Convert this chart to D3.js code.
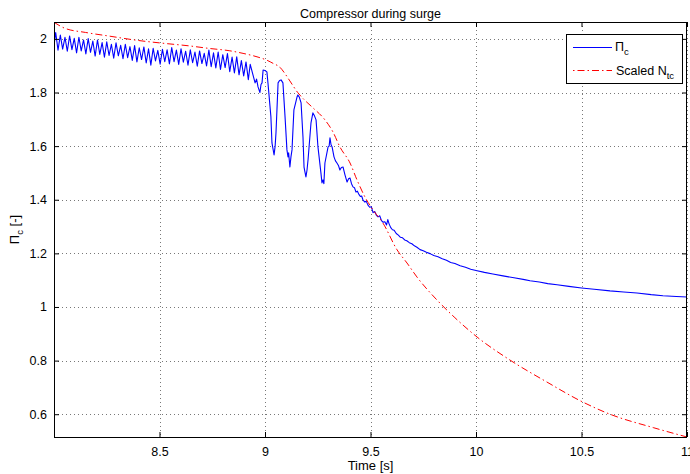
<!DOCTYPE html>
<html>
<head>
<meta charset="utf-8">
<script src="https://cdn.jsdelivr.net/npm/d3@7"></script>
<style>
  html, body { margin: 0; padding: 0; background: #fff; }
  svg { display: block; font-family: "Liberation Sans", Arial, Helvetica, sans-serif; }
</style>
</head>
<body>
<svg id="chart" width="690" height="474"></svg>
<script>
// ── DATA ───────────────────────────────────────────────────────────────────
const TITLE   = 'Compressor during surge';
const X_LABEL = 'Time [s]';

const X_DOMAIN = [8, 11];
const Y_DOMAIN = [0.515, 2.063];

const X_TICKS       = [8.5, 9, 9.5, 10, 10.5, 11];
const X_TICK_LABELS = ['8.5', '9', '9.5', '10', '10.5', '11'];
const Y_TICKS       = [0.6, 0.8, 1, 1.2, 1.4, 1.6, 1.8, 2];
const Y_TICK_LABELS = ['0.6', '0.8', '1', '1.2', '1.4', '1.6', '1.8', '2'];

// Pressure ratio Pi_c [time, value]
const piC = [
  [8.000, 1.975], [8.008, 2.024], [8.019, 1.958], [8.030, 2.014], [8.041, 1.962],
  [8.052, 2.006], [8.063, 1.954], [8.074, 2.011], [8.085, 1.960], [8.096, 2.002],
  [8.107, 1.948], [8.118, 2.006], [8.129, 1.955], [8.140, 1.996], [8.151, 1.944],
  [8.162, 2.001], [8.173, 1.950], [8.184, 1.992], [8.195, 1.936], [8.206, 1.996],
  [8.217, 1.942], [8.228, 1.986], [8.239, 1.932], [8.250, 1.989], [8.261, 1.938],
  [8.272, 1.980], [8.283, 1.928], [8.294, 1.985], [8.305, 1.937], [8.316, 1.976],
  [8.327, 1.926], [8.338, 1.980], [8.349, 1.930], [8.360, 1.971], [8.371, 1.920],
  [8.382, 1.975], [8.393, 1.914], [8.404, 1.967], [8.415, 1.923], [8.426, 1.970],
  [8.437, 1.910], [8.448, 1.963], [8.459, 1.902], [8.470, 1.965], [8.481, 1.918],
  [8.492, 1.957], [8.503, 1.906], [8.514, 1.961], [8.525, 1.915], [8.536, 1.959],
  [8.547, 1.907], [8.558, 1.968], [8.569, 1.915], [8.580, 1.958], [8.591, 1.905],
  [8.602, 1.963], [8.613, 1.913], [8.624, 1.954], [8.635, 1.902], [8.646, 1.959],
  [8.657, 1.911], [8.668, 1.951], [8.679, 1.898], [8.690, 1.955], [8.701, 1.908],
  [8.712, 1.946], [8.723, 1.899], [8.734, 1.958], [8.745, 1.896], [8.756, 1.948],
  [8.767, 1.892], [8.778, 1.951], [8.789, 1.886], [8.800, 1.941], [8.811, 1.893],
  [8.822, 1.945], [8.833, 1.878], [8.844, 1.932], [8.855, 1.873], [8.866, 1.933],
  [8.877, 1.866], [8.888, 1.919], [8.899, 1.862], [8.910, 1.914], [8.921, 1.848],
  [8.930, 1.905], [8.943, 1.866], [8.953, 1.836], [8.960, 1.850], [8.967, 1.821],
  [8.976, 1.800], [8.981, 1.830], [8.986, 1.836], [8.991, 1.884], [9.000, 1.882],
  [9.009, 1.877], [9.014, 1.836], [9.028, 1.709], [9.033, 1.612], [9.038, 1.590],
  [9.043, 1.567], [9.048, 1.600], [9.052, 1.649], [9.062, 1.836], [9.069, 1.845],
  [9.076, 1.847], [9.085, 1.836], [9.095, 1.709], [9.104, 1.586], [9.109, 1.560],
  [9.112, 1.575], [9.118, 1.522], [9.123, 1.560], [9.128, 1.586], [9.137, 1.735],
  [9.152, 1.784], [9.156, 1.791], [9.163, 1.782], [9.171, 1.761], [9.180, 1.634],
  [9.185, 1.522], [9.189, 1.505], [9.194, 1.485], [9.199, 1.510], [9.204, 1.549],
  [9.218, 1.687], [9.227, 1.724], [9.235, 1.712], [9.242, 1.698], [9.251, 1.597],
  [9.265, 1.500], [9.270, 1.463], [9.275, 1.474], [9.279, 1.460], [9.284, 1.537],
  [9.299, 1.597], [9.304, 1.600], [9.308, 1.631], [9.313, 1.605], [9.318, 1.597],
  [9.327, 1.560], [9.334, 1.545], [9.341, 1.537], [9.348, 1.528], [9.355, 1.511],
  [9.362, 1.520], [9.370, 1.522], [9.379, 1.493], [9.389, 1.466], [9.396, 1.478],
  [9.403, 1.481], [9.410, 1.460], [9.417, 1.448], [9.424, 1.445], [9.431, 1.429],
  [9.438, 1.432], [9.445, 1.420], [9.452, 1.412], [9.458, 1.414], [9.464, 1.400],
  [9.472, 1.392], [9.480, 1.394], [9.488, 1.380], [9.496, 1.372], [9.504, 1.374],
  [9.512, 1.352], [9.520, 1.356], [9.528, 1.342], [9.536, 1.336], [9.544, 1.340],
  [9.552, 1.322], [9.560, 1.316], [9.568, 1.318], [9.576, 1.306], [9.582, 1.326],
  [9.588, 1.310], [9.596, 1.296], [9.604, 1.288], [9.612, 1.286], [9.622, 1.274],
  [9.632, 1.268], [9.642, 1.260], [9.652, 1.258], [9.662, 1.250], [9.672, 1.247],
  [9.684, 1.240], [9.696, 1.236], [9.708, 1.228], [9.720, 1.223], [9.735, 1.214],
  [9.750, 1.210], [9.765, 1.204], [9.782, 1.199], [9.800, 1.192], [9.820, 1.187],
  [9.840, 1.180], [9.860, 1.174], [9.880, 1.166], [9.900, 1.162], [9.925, 1.154],
  [9.950, 1.148], [9.975, 1.141], [10.000, 1.136], [10.040, 1.129], [10.080, 1.123],
  [10.128, 1.116], [10.180, 1.109], [10.230, 1.102], [10.256, 1.098], [10.300, 1.093],
  [10.340, 1.087], [10.384, 1.083], [10.440, 1.077], [10.500, 1.071], [10.560, 1.066],
  [10.635, 1.060], [10.700, 1.056], [10.763, 1.052], [10.830, 1.046], [10.886, 1.042],
  [10.950, 1.039], [11.000, 1.037]
];

// Scaled turbocharger speed N_tc [time, value]
const scaledNtc = [
  [8.000, 2.062], [8.050, 2.040], [8.150, 2.024], [8.265, 2.010], [8.400, 1.994],
  [8.526, 1.983], [8.640, 1.974], [8.740, 1.964], [8.830, 1.956], [8.896, 1.946],
  [8.967, 1.932], [9.010, 1.920], [9.040, 1.908], [9.071, 1.894], [9.095, 1.870],
  [9.118, 1.843], [9.156, 1.799], [9.190, 1.770], [9.227, 1.743], [9.284, 1.698],
  [9.322, 1.653], [9.355, 1.597], [9.403, 1.537], [9.436, 1.474], [9.474, 1.410],
  [9.512, 1.362], [9.559, 1.313], [9.626, 1.213], [9.673, 1.164], [9.720, 1.112],
  [9.815, 1.026], [9.900, 0.960], [10.005, 0.888], [10.161, 0.802], [10.336, 0.720],
  [10.502, 0.647], [10.635, 0.600], [10.840, 0.550], [11.000, 0.515]
];

// ── LAYOUT ─────────────────────────────────────────────────────────────────
const AX = { left: 54, right: 687, top: 22, bottom: 437 };
const TICK_LEN = 5;

const svg = d3.select('#chart');

const x = d3.scaleLinear().domain(X_DOMAIN).range([AX.left, AX.right]);
const y = d3.scaleLinear().domain(Y_DOMAIN).range([AX.bottom, AX.top]);

svg.append('defs').append('clipPath').attr('id', 'plot-clip')
  .append('rect')
    .attr('x', AX.left).attr('y', AX.top)
    .attr('width', AX.right - AX.left).attr('height', AX.bottom - AX.top);

// ── GRID ───────────────────────────────────────────────────────────────────
const grid = svg.append('g')
  .attr('stroke', '#555')
  .attr('stroke-width', 0.8)
  .attr('stroke-dasharray', '1,3');

grid.selectAll('.gx').data(X_TICKS).enter().append('line')
  .attr('x1', d => Math.round(x(d)) + 0.5).attr('x2', d => Math.round(x(d)) + 0.5)
  .attr('y1', AX.top).attr('y2', AX.bottom);

grid.selectAll('.gy').data(Y_TICKS).enter().append('line')
  .attr('y1', d => Math.round(y(d)) + 0.5).attr('y2', d => Math.round(y(d)) + 0.5)
  .attr('x1', AX.left).attr('x2', AX.right);

// ── LINES ──────────────────────────────────────────────────────────────────
const line = d3.line().x(d => x(d[0])).y(d => y(d[1]));
const plot = svg.append('g').attr('clip-path', 'url(#plot-clip)');

plot.append('path')
  .datum(piC)
  .attr('d', line)
  .attr('fill', 'none')
  .attr('stroke', '#0000ff')
  .attr('stroke-width', 1.1)
  .attr('stroke-linejoin', 'round');

plot.append('path')
  .datum(scaledNtc)
  .attr('d', d3.line().curve(d3.curveMonotoneX).x(d => x(d[0])).y(d => y(d[1])))
  .attr('fill', 'none')
  .attr('stroke', '#ff0000')
  .attr('stroke-width', 1)
  .attr('stroke-dasharray', '7,3,1.5,3');

// ── AXES (MATLAB style: box, inward ticks) ─────────────────────────────────
function styleAxis(g) {
  g.select('.domain').remove();
  g.selectAll('.tick line').attr('stroke', '#000').attr('stroke-width', 1);
  g.selectAll('.tick text').attr('fill', '#000').attr('font-size', 12.5);
}

svg.append('g')
  .attr('transform', `translate(0,${AX.bottom})`)
  .call(d3.axisBottom(x).tickValues(X_TICKS)
    .tickFormat((d, i) => X_TICK_LABELS[i])
    .tickSizeInner(-TICK_LEN).tickSizeOuter(0).tickPadding(10))
  .call(styleAxis);

svg.append('g')
  .attr('transform', `translate(0,${AX.top})`)
  .call(d3.axisTop(x).tickValues(X_TICKS).tickFormat('')
    .tickSizeInner(-TICK_LEN).tickSizeOuter(0))
  .call(styleAxis);

svg.append('g')
  .attr('transform', `translate(${AX.left},0)`)
  .call(d3.axisLeft(y).tickValues(Y_TICKS)
    .tickFormat((d, i) => Y_TICK_LABELS[i])
    .tickSizeInner(-TICK_LEN).tickSizeOuter(0).tickPadding(7))
  .call(styleAxis);

svg.append('g')
  .attr('transform', `translate(${AX.right},0)`)
  .call(d3.axisRight(y).tickValues(Y_TICKS).tickFormat('')
    .tickSizeInner(-TICK_LEN).tickSizeOuter(0))
  .call(styleAxis);

svg.append('rect')
  .attr('x', AX.left + 0.5).attr('y', AX.top + 0.5)
  .attr('width', AX.right - AX.left - 1).attr('height', AX.bottom - AX.top)
  .attr('fill', 'none')
  .attr('stroke', '#000')
  .attr('stroke-width', 1);

// ── TEXT ───────────────────────────────────────────────────────────────────
svg.append('text')
  .attr('x', (AX.left + AX.right) / 2).attr('y', 18)
  .attr('text-anchor', 'middle')
  .attr('font-size', 12.5)
  .text(TITLE);

svg.append('text')
  .attr('x', (AX.left + AX.right) / 2).attr('y', 470)
  .attr('text-anchor', 'middle')
  .attr('font-size', 13)
  .text(X_LABEL);

const yLab = svg.append('text')
  .attr('transform', `translate(19,${(AX.top + AX.bottom) / 2}) rotate(-90)`)
  .attr('text-anchor', 'middle')
  .attr('font-size', 13);
yLab.append('tspan').text('Π');
yLab.append('tspan').attr('font-size', 9.5).attr('dy', 4).text('c');
yLab.append('tspan').attr('dy', -4).text(' [-]');

// ── LEGEND ─────────────────────────────────────────────────────────────────
const LEG = { x: 566, y: 34, w: 116, h: 49 };
const leg = svg.append('g');

leg.append('rect')
  .attr('x', LEG.x + 0.5).attr('y', LEG.y + 0.5)
  .attr('width', LEG.w).attr('height', LEG.h)
  .attr('fill', '#fff').attr('stroke', '#000').attr('stroke-width', 1);

leg.append('line')
  .attr('x1', 573).attr('x2', 612).attr('y1', 47.5).attr('y2', 47.5)
  .attr('stroke', '#0000ff').attr('stroke-width', 1.1);

leg.append('line')
  .attr('x1', 573).attr('x2', 612).attr('y1', 70.5).attr('y2', 70.5)
  .attr('stroke', '#ff0000').attr('stroke-width', 1)
  .attr('stroke-dasharray', '1.5,3,7,3');

const l1 = leg.append('text').attr('x', 615).attr('y', 51).attr('font-size', 12.5);
l1.append('tspan').text('Π');
l1.append('tspan').attr('font-size', 9.5).attr('dy', 4).text('c');

const l2 = leg.append('text').attr('x', 616).attr('y', 75).attr('font-size', 12.5);
l2.append('tspan').text('Scaled N');
l2.append('tspan').attr('font-size', 9.5).attr('dy', 4).text('tc');
</script>
</body>
</html>
